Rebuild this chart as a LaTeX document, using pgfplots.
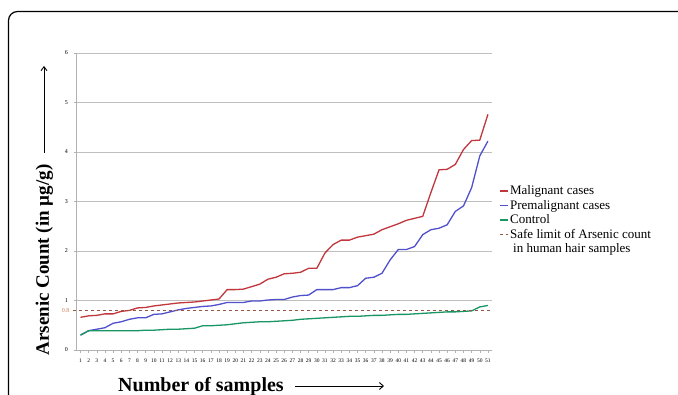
\documentclass[border=0pt]{standalone}
\usepackage{pgfplots}
\pgfplotsset{compat=1.18}
\usepackage{pgfplotstable}
\usetikzlibrary{arrows.meta}
\usepackage{fontspec}
\setmainfont{Liberation Serif}
\definecolor{malig}{RGB}{192,55,62}
\definecolor{premal}{RGB}{80,80,205}
\definecolor{ctrl}{RGB}{25,150,100}
\definecolor{safe}{RGB}{150,85,65}
\definecolor{safetxt}{RGB}{205,125,85}
\pgfplotsset{safeleg/.style={legend image code/.code={\draw[##1] (0pt,7pt) -- (8pt,7pt);}}}

\pgfplotstableread{
x y
1 0.66
2 0.69
3 0.70
4 0.73
5 0.73
6 0.78
7 0.80
8 0.85
9 0.86
10 0.89
11 0.91
12 0.93
13 0.95
14 0.96
15 0.97
16 0.99
17 1.01
18 1.03
19 1.22
20 1.22
21 1.23
22 1.28
23 1.33
24 1.43
25 1.47
26 1.54
27 1.55
28 1.57
29 1.65
30 1.65
31 1.96
32 2.13
33 2.22
34 2.22
35 2.28
36 2.31
37 2.34
38 2.43
39 2.49
40 2.55
41 2.62
42 2.66
43 2.70
44 3.18
45 3.64
46 3.65
47 3.75
48 4.05
49 4.23
50 4.24
51 4.76
}\malignant

\pgfplotstableread{
x y
1 0.30
2 0.39
3 0.42
4 0.45
5 0.54
6 0.57
7 0.62
8 0.65
9 0.65
10 0.72
11 0.73
12 0.77
13 0.81
14 0.84
15 0.86
16 0.88
17 0.89
18 0.92
19 0.96
20 0.96
21 0.96
22 0.99
23 0.99
24 1.01
25 1.02
26 1.02
27 1.07
28 1.10
29 1.11
30 1.22
31 1.22
32 1.22
33 1.26
34 1.26
35 1.30
36 1.45
37 1.47
38 1.55
39 1.82
40 2.03
41 2.03
42 2.09
43 2.33
44 2.43
45 2.46
46 2.53
47 2.80
48 2.91
49 3.28
50 3.92
51 4.22
}\premalignant

\pgfplotstableread{
x y
1 0.30
2 0.39
3 0.39
4 0.39
5 0.39
6 0.39
7 0.39
8 0.39
9 0.40
10 0.40
11 0.41
12 0.42
13 0.42
14 0.43
15 0.44
16 0.49
17 0.49
18 0.50
19 0.51
20 0.53
21 0.55
22 0.56
23 0.57
24 0.57
25 0.58
26 0.59
27 0.60
28 0.62
29 0.63
30 0.64
31 0.65
32 0.66
33 0.67
34 0.68
35 0.68
36 0.69
37 0.70
38 0.70
39 0.71
40 0.72
41 0.72
42 0.73
43 0.74
44 0.75
45 0.76
46 0.77
47 0.77
48 0.78
49 0.79
50 0.87
51 0.90
}\control

\begin{document}
\begin{tikzpicture}[x=1pt,y=1pt]
\useasboundingbox (0,0) rectangle (678,394);
\fill[white] (0,0) rectangle (678,394);
\draw[line width=1.2pt, rounded corners=9pt] (8.5,-40) |- (720,382.5);
\begin{axis}[
  at={(76pt,44pt)}, anchor=south west,
  scale only axis, width=416pt, height=297pt,
  xmin=0.45, xmax=51.5, ymin=0, ymax=6,
  xtick={1,...,51}, ytick={0,1,...,6},
  axis x line*=bottom, axis y line*=left,
  axis line style={black!30, line width=0.6pt},
  tick style={black!30, line width=0.5pt},
  major tick length=2.5pt,
  tick align=outside,
  ymajorgrids,
  grid style={black!25, line width=0.6pt},
  /pgf/number format/assume math mode=true,
  x tick label style={font=\fontsize{5.5}{6}\selectfont, yshift=-3pt},
  y tick label style={font=\fontsize{6}{7}\selectfont, xshift=-2pt},
  extra y ticks={0.8},
  extra y tick labels={0.8},
  extra y tick style={grid=none, major tick length=0pt, tick label style={font=\fontsize{5}{6}\selectfont, text=safetxt, xshift=-1pt}},
  clip=false,
  legend image code/.code={\draw[#1] (0pt,0pt) -- (8pt,0pt);},
  legend cell align=left,
  legend style={at={(1.010,0.566)}, anchor=north west, draw=none, fill=none,
    font=\fontsize{13}{14}\selectfont, row sep=1pt,
    nodes={align=left, inner sep=1.5pt}},
]
\addplot[malig, line width=1.3pt] table {\malignant};
\addlegendentry{Malignant cases}
\addplot[premal, line width=1.3pt] table {\premalignant};
\addlegendentry{Premalignant cases}
\addplot[ctrl, line width=1.3pt] table {\control};
\addlegendentry{Control}
\addplot[safe, line width=0.8pt, dash pattern=on 3pt off 3pt, safeleg] coordinates {(0.08,0.8) (51.5,0.8)};
\addlegendentry{Safe limit of Arsenic count\\\hspace*{3pt}in human hair samples}
\end{axis}
\node[rotate=90, font=\bfseries\fontsize{19}{22}\selectfont, inner sep=0pt] at (44.5,134) {Arsenic Count (in µg/g)};
\draw[-{Straight Barb[length=4pt,width=6pt]}, line width=0.9pt] (44,241) -- (44,328);
\node[anchor=base west, font=\bfseries\fontsize{20}{22}\selectfont, inner sep=0pt] at (118,3) {Number of samples};
\draw[-{Straight Barb[length=4pt,width=7pt]}, line width=0.9pt] (295,8) -- (384,8);
\end{tikzpicture}
\end{document}
